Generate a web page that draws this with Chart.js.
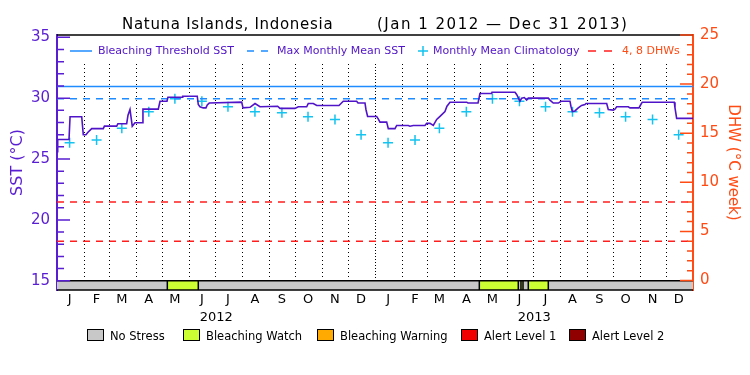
<!DOCTYPE html>
<html><head><meta charset="utf-8">
<script src="https://cdn.jsdelivr.net/npm/chart.js@4.4.1/dist/chart.umd.min.js"></script>
<style>html,body{margin:0;padding:0;background:#fff}</style>
</head><body>
<canvas id="c" width="750" height="375" style="display:block"></canvas>
<script>
// ---------------- data ----------------
const titleLeft = 'Natuna Islands, Indonesia';
const titleRight = '(Jan 1 2012 \u2014 Dec 31 2013)';
const years = [2012, 2013];
const monthLetters = ['J','F','M','A','M','J','J','A','S','O','N','D'];
// daily SST (day offset from Jan 1 2012, value degC)
const sstDay = [0,0.5,1.1,13.8,15,28.4,30.2,33.3,35.6,39.9,53.2,54.5,68.6,70,80.1,81.6,83.9,86.5,89.6,98,98.8,116.4,118.4,126.4,127.5,143.7,144.5,161.2,162.4,164.3,168.1,171.2,172.7,175,212.3,213.8,221.8,227.6,233.3,253.6,256.3,273.5,277.3,287,288.8,294.6,298.5,324.1,329,344.4,346,354,355.1,357,367.4,369.2,371.2,378.9,380.8,388.5,390.4,403.7,405.7,409.5,422.9,424.9,428.7,432.5,436.4,440.2,445.9,448.2,451.7,470.9,472.4,483.9,486.1,499.6,500,526.4,528.3,532.1,534.1,537.1,539.8,541.7,564.7,566.6,570.4,576.2,579.3,589.6,590.7,592.3,595.3,599.1,603,606.8,608,631.8,633.6,639.4,641.3,643.3,656.6,658.6,668.9,671.2,672.7,709.5,710.3,711.4,712.2,731];
const sstVal = [25.6,26.4,26.6,26.6,28.47,28.47,27.0,27.0,27.2,27.5,27.5,27.7,27.7,27.9,27.9,28.6,29.07,27.7,27.98,27.98,29.1,29.1,29.75,29.75,30.08,30.08,30.16,30.16,29.48,29.29,29.2,29.2,29.45,29.6,29.67,29.2,29.25,29.56,29.3,29.34,29.16,29.16,29.29,29.29,29.56,29.56,29.4,29.4,29.75,29.75,29.6,29.6,29.07,28.5,28.5,28.3,28.03,28.03,27.5,27.5,27.76,27.76,27.7,27.76,27.76,27.93,27.93,27.76,28.25,28.5,28.9,29.34,29.67,29.67,29.6,29.6,30.38,30.38,30.49,30.49,30.3,29.75,30.0,30.05,29.84,30.0,30.0,29.84,29.6,29.6,29.75,29.75,29.34,28.9,28.95,29.2,29.4,29.48,29.56,29.56,29.07,29.02,29.1,29.29,29.29,29.2,29.2,29.5,29.67,29.67,29.2,28.7,28.34,28.34];
// monthly mean climatology (Jan..Dec)
const climVal = [26.34,26.56,27.52,28.88,29.95,29.75,29.29,28.88,28.80,28.47,28.25,27.00];
const thresholdSST = 30.96;
const mmmSST = 29.96;
const dhwLevels = [4, 8];
const sstTicks = [15,20,25,30,35];
const dhwTicks = [0,5,10,15,20,25];
// stress strip segments (days)
const stressStart = [0,126.8,162.4,485.4,530.2,533.3,535.6,541.7,564.7];
const stressEnd   = [126.8,162.4,485.4,530.2,533.3,535.6,541.7,564.7,731];
const stressLevel = [0,1,0,1,0,1,0,1,0];
const stressNames  = ['No Stress','Bleaching Watch','Bleaching Warning','Alert Level 1','Alert Level 2'];
const stressColors = ['#C8C8C8','#CCFF33','#FFAA00','#F00000','#900000'];

// ---------------- derived ----------------
const DAY = 86400000, T0 = Date.UTC(2012,0,1);
const monthStarts = [];
years.forEach(y => { for (let m=0;m<12;m++) monthStarts.push((Date.UTC(y,m,1)-T0)/DAY); });
const totalDays = (Date.UTC(2014,0,1)-T0)/DAY;
const monthMids = monthStarts.map(d => d + 14.5);
const yearMids = years.map(y => ((Date.UTC(y,0,1)+Date.UTC(y+1,0,1))/2 - T0)/DAY);

const PURPLE = '#5014C8', AXP = '#5A1ED2', BLUE = '#1E8CFF', CYAN = '#14C3F0', ORANGE = '#FF4B14', RED = '#FF1E1E';
const FONT = '"DejaVu Sans", sans-serif';

const sstPts = sstDay.map((d,i)=>({x:d,y:sstVal[i]}));
const climPts = monthMids.map((d,i)=>({x:d,y:climVal[i%12]}));
const hLine = (v)=>[{x:0,y:v},{x:totalDays,y:v}];

const decor = {
  id:'decor',
  beforeDatasetsDraw(chart){
    const {ctx, scales:{x,y}} = chart;
    const y15 = y.getPixelForValue(15);
    ctx.save();
    ctx.strokeStyle='#000'; ctx.lineWidth=1;
    monthStarts.forEach((d,i)=>{
      if (i===0) return;
      const px = Math.round(x.getPixelForValue(d))+0.5;
      ctx.setLineDash(i===12?[1,2]:[1,3]);
      ctx.beginPath(); ctx.moveTo(px,64); ctx.lineTo(px,y15); ctx.stroke();
    });
    ctx.restore();
  },
  afterDraw(chart){
    const {ctx, chartArea:a, scales:{x,y,y2}} = chart;
    const y15 = y.getPixelForValue(15);
    ctx.save();
    // stress strip
    stressStart.forEach((s,i)=>{
      const x0 = x.getPixelForValue(s), x1 = x.getPixelForValue(stressEnd[i]);
      ctx.fillStyle = stressColors[stressLevel[i]];
      ctx.fillRect(x0, y15, x1-x0, a.bottom-y15);
    });
    ctx.strokeStyle='#000'; ctx.lineWidth=1.5;
    ctx.beginPath(); ctx.moveTo(a.left,y15); ctx.lineTo(a.right,y15); ctx.moveTo(a.left,a.bottom); ctx.lineTo(a.right,a.bottom);
    stressStart.forEach((s,i)=>{ if(i===0) return; const px=x.getPixelForValue(s); ctx.moveTo(px,y15); ctx.lineTo(px,a.bottom); });
    ctx.stroke();
    // top border
    ctx.lineWidth=1.5; ctx.beginPath(); ctx.moveTo(a.left,a.top); ctx.lineTo(a.right,a.top); ctx.stroke();
    // inward ticks left
    ctx.strokeStyle=AXP; ctx.lineWidth=1.5; ctx.beginPath();
    for (let v=15; v<=35; v++){ const py=y.getPixelForValue(v); const L = v%5===0?13:7; ctx.moveTo(a.left,py); ctx.lineTo(a.left+L,py); }
    ctx.stroke();
    ctx.strokeStyle=ORANGE; ctx.beginPath();
    for (let v=0; v<=25; v++){ const py=y2.getPixelForValue(v); const L = v%5===0?13:6; ctx.moveTo(a.right,py); ctx.lineTo(a.right-L,py); }
    ctx.stroke();
    // title
    ctx.fillStyle='#000'; ctx.font='15px '+FONT; ctx.textBaseline='alphabetic'; ctx.textAlign='left';
    ctx.letterSpacing='0.7px';
    ctx.fillText(titleLeft, 122, 29);
    ctx.letterSpacing='1.5px';
    ctx.fillText(titleRight, 377, 29);
    ctx.letterSpacing='0px';
    // inner legend
    const ly = 51;
    ctx.font='11px '+FONT; ctx.textBaseline='middle';
    ctx.strokeStyle=BLUE; ctx.lineWidth=1.5; ctx.setLineDash([]);
    ctx.beginPath(); ctx.moveTo(70,ly); ctx.lineTo(92,ly); ctx.stroke();
    ctx.fillStyle=PURPLE; ctx.fillText('Bleaching Threshold SST', 98, ly);
    ctx.beginPath(); ctx.moveTo(247,ly); ctx.lineTo(254,ly); ctx.moveTo(261,ly); ctx.lineTo(268,ly); ctx.stroke();
    ctx.fillText('Max Monthly Mean SST', 277, ly);
    ctx.strokeStyle=CYAN; ctx.beginPath(); ctx.moveTo(418,ly); ctx.lineTo(428,ly); ctx.moveTo(423,ly-5); ctx.lineTo(423,ly+5); ctx.stroke();
    ctx.fillText('Monthly Mean Climatology', 433, ly);
    ctx.strokeStyle=RED; ctx.beginPath(); ctx.moveTo(588,ly); ctx.lineTo(596,ly); ctx.moveTo(604,ly); ctx.lineTo(612,ly); ctx.stroke();
    ctx.fillStyle=ORANGE; ctx.fillText('4, 8 DHWs', 622, ly);
    // bottom legend
    const bx = [87,183,317,461,569];
    ctx.font='11.5px '+FONT; ctx.textBaseline='alphabetic';
    stressNames.forEach((n,i)=>{
      ctx.fillStyle=stressColors[i]; ctx.fillRect(bx[i],329,16,11);
      ctx.strokeStyle='#000'; ctx.lineWidth=1; ctx.strokeRect(bx[i]+0.5,329.5,16,11);
      ctx.fillStyle='#000'; ctx.fillText(n, bx[i]+23, 340);
    });
    ctx.restore();
  }
};

new Chart(document.getElementById('c'), {
  type:'line',
  data:{ datasets:[
    {label:'SST', data:sstPts, yAxisID:'y', borderColor:PURPLE, borderWidth:1.6, pointRadius:0, tension:0},
    {label:'Bleaching Threshold SST', data:hLine(thresholdSST), yAxisID:'y', borderColor:BLUE, borderWidth:1.5, pointRadius:0},
    {label:'Max Monthly Mean SST', data:hLine(mmmSST), yAxisID:'y', borderColor:BLUE, borderWidth:1.5, borderDash:[7,6], pointRadius:0},
    {label:'Monthly Mean Climatology', data:climPts, yAxisID:'y', showLine:false, pointStyle:'cross', pointRadius:5, borderColor:CYAN, borderWidth:1.5},
    {label:'4 DHW', data:hLine(dhwLevels[0]), yAxisID:'y2', borderColor:RED, borderWidth:1.5, borderDash:[7,6], pointRadius:0},
    {label:'8 DHW', data:hLine(dhwLevels[1]), yAxisID:'y2', borderColor:RED, borderWidth:1.5, borderDash:[7,6], pointRadius:0}
  ]},
  options:{
    responsive:false, animation:false, devicePixelRatio:1,
    layout:{padding:{top:35,bottom:47,left:0,right:0}},
    plugins:{legend:{display:false}, tooltip:{enabled:false}, title:{display:false}},
    scales:{
      x:{type:'linear', min:0, max:totalDays, position:'bottom', weight:0,
         grid:{display:false, drawTicks:false}, border:{display:false},
         afterBuildTicks:s=>{s.ticks = monthMids.map(v=>({value:v}));},
         afterFit:s=>{s.height=20;},
         ticks:{padding:2, color:'#000', font:{family:FONT,size:13}, maxRotation:0, autoSkip:false,
           callback:(v,i)=>monthLetters[i%12]}},
      x2:{type:'linear', min:0, max:totalDays, position:'bottom', weight:1,
         grid:{display:false, drawTicks:false}, border:{display:false},
         afterBuildTicks:s=>{s.ticks = yearMids.map(v=>({value:v}));},
         afterFit:s=>{s.height=18;},
         ticks:{padding:0, color:'#000', font:{family:FONT,size:13}, maxRotation:0, autoSkip:false,
           callback:(v,i)=>String(years[i])}},
      y:{type:'linear', position:'left', min:14.24, max:35.19,
         grid:{display:false, drawTicks:false}, border:{display:true, color:AXP, width:2},
         afterBuildTicks:s=>{s.ticks = sstTicks.map(v=>({value:v}));},
         afterFit:s=>{s.width=57;},
         ticks:{padding:7, color:AXP, font:{family:FONT,size:15}},
         title:{display:true, text:'SST (\u00B0C)', color:AXP, font:{family:FONT,size:16}, padding:{top:8,bottom:0}}},
      y2:{type:'linear', position:'right', min:-0.97, max:25.0,
         grid:{display:false, drawTicks:false}, border:{display:true, color:ORANGE, width:2},
         afterBuildTicks:s=>{s.ticks = dhwTicks.map(v=>({value:v}));},
         afterFit:s=>{s.width=57;},
         ticks:{padding:7, color:ORANGE, font:{family:FONT,size:15}},
         title:{display:true, text:'DHW (\u00B0C week)', color:ORANGE, font:{family:FONT,size:15}, padding:{top:8,bottom:0}}}
    }
  },
  plugins:[decor]
});
</script>
</body></html>
